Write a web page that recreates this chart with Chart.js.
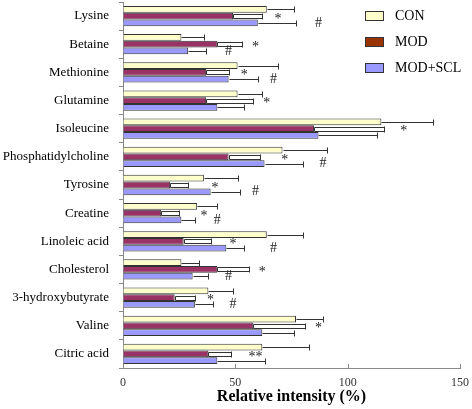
<!DOCTYPE html>
<html>
<head>
<meta charset="utf-8">
<script src="https://cdn.jsdelivr.net/npm/chart.js@4"></script>
<style>
  html, body { margin: 0; padding: 0; background: #fff; }
</style>
</head>
<body>
<canvas id="chart" width="472" height="409"></canvas>
<script>
const categories = ['Lysine', 'Betaine', 'Methionine', 'Glutamine', 'Isoleucine', 'Phosphatidylcholine',
    'Tyrosine', 'Creatine', 'Linoleic acid', 'Cholesterol', '3-hydroxybutyrate', 'Valine', 'Citric acid'];
const seriesNames = ['CON', 'MOD', 'MOD+SCL'];
const conValues = [64, 26, 51, 51, 115, 71, 36, 33, 64, 26, 38, 77, 62];
const conErrors = [12, 10, 18, 11, 23, 20, 15, 9, 16, 8, 11, 12, 21];
const modValues = [49, 42, 37, 37, 85, 47, 21, 17, 27, 42, 23, 58, 38];
const modErrors = [13, 11, 10, 21, 31, 14, 8, 8, 12, 14, 9, 23, 10];
const sclValues = [60, 29, 47, 42, 87, 63, 39, 26, 46, 31, 32, 62, 42];
const sclErrors = [17, 8, 13, 12, 26, 17, 13, 6, 8, 7, 8, 14, 21];
// significance marks: '*' vs CON (on MOD row), '#' vs MOD (on SCL row)
const starMarks = ['*', '*', '*', '*', '*', '*', '*', '*', '*', '*', '*', '*', '**'];
const starX = [69, 59, 54, 64, 125, 72, 41, 36, 49, 62, 39, 87, 59];
const hashX = [87, 47, 67, null, null, 89, 59, 42, 67, 47, 49, null, null];
const xTicks = [0, 50, 100, 150];

const serif = 'Liberation Serif, Times New Roman, serif';
const legendSwatch = ['#FFFFCC', '#993300', '#9999FF'];

const errorBars = {
    id: 'errorBars',
    afterDatasetsDraw(chart) {
        const ctx = chart.ctx;
        const xs = chart.scales.x;
        ctx.save();
        ctx.strokeStyle = '#333';
        ctx.lineWidth = 1;
        chart.data.datasets.forEach((ds, i) => {
            const meta = chart.getDatasetMeta(i);
            meta.data.forEach((bar, j) => {
                const x0 = Math.round(bar.x) + 0.5;
                const x1 = Math.round(xs.getPixelForValue(ds.data[j] + ds.errors[j])) + 0.5;
                const y = Math.round(bar.y) + 0.5;
                ctx.beginPath();
                if (i === 1) {
                    ctx.rect(x0, y - 2, x1 - x0, 4);
                } else {
                    ctx.moveTo(x0, y);
                    ctx.lineTo(x1, y);
                }
                ctx.moveTo(x1, y - 3);
                ctx.lineTo(x1, y + 3);
                ctx.stroke();
            });
        });
        ctx.restore();
    },
    afterDraw(chart) {
        const ctx = chart.ctx;
        const xs = chart.scales.x;
        const area = chart.chartArea;
        ctx.save();
        // inward x ticks
        ctx.strokeStyle = '#888';
        ctx.beginPath();
        xTicks.forEach(v => {
            const x = Math.round(xs.getPixelForValue(v)) + 0.5;
            ctx.moveTo(x, area.bottom);
            ctx.lineTo(x, area.bottom - 4);
        });
        ctx.stroke();

        // significance marks
        ctx.fillStyle = '#222';
        ctx.font = '14px ' + serif;
        ctx.textAlign = 'center';
        ctx.textBaseline = 'middle';
        const modMeta = chart.getDatasetMeta(1);
        const sclMeta = chart.getDatasetMeta(2);
        categories.forEach((c, j) => {
            if (starX[j] != null) {
                ctx.fillText(starMarks[j], xs.getPixelForValue(starX[j]), modMeta.data[j].y + 3);
            }
            if (hashX[j] != null) {
                ctx.fillText('#', xs.getPixelForValue(hashX[j]), sclMeta.data[j].y);
            }
        });

        // legend
        ctx.textAlign = 'left';
        seriesNames.forEach((name, k) => {
            const y = 16 + k * 26;
            ctx.fillStyle = legendSwatch[k];
            ctx.fillRect(365, y - 4, 18, 8);
            ctx.strokeStyle = '#333';
            ctx.strokeRect(365.5, y - 4.5, 18, 9);
            ctx.fillStyle = '#000';
            ctx.fillText(name, 395, y);
        });
        ctx.restore();
    }
};

const barStyle = { borderColor: '#333', borderWidth: 1, categoryPercentage: 0.72, barPercentage: 1.0 };

new Chart(document.getElementById('chart').getContext('2d'), {
    type: 'bar',
    data: {
        labels: categories,
        datasets: [
            { label: seriesNames[0], data: conValues, errors: conErrors, backgroundColor: '#FFFFCC', ...barStyle },
            { label: seriesNames[1], data: modValues, errors: modErrors, backgroundColor: '#993366', ...barStyle },
            { label: seriesNames[2], data: sclValues, errors: sclErrors, backgroundColor: '#9999FF', ...barStyle }
        ]
    },
    options: {
        indexAxis: 'y',
        responsive: false,
        animation: false,
        devicePixelRatio: 1,
        layout: { padding: { top: 2, right: 12, left: 0, bottom: 0 } },
        plugins: {
            legend: { display: false },
            tooltip: { enabled: false }
        },
        scales: {
            x: {
                min: 0,
                max: 150,
                afterFit: s => { s.height = 41; s.paddingLeft = 0; s.paddingRight = 0; },
                afterBuildTicks: s => { s.ticks = xTicks.map(v => ({ value: v })); },
                grid: { drawOnChartArea: false, tickLength: 0 },
                border: { color: '#888' },
                ticks: { color: '#333', padding: 8, font: { family: serif, size: 12 } },
                title: {
                    display: true,
                    text: 'Relative intensity (%)',
                    color: '#000',
                    font: { family: serif, size: 16, weight: 'bold' },
                    padding: { top: 0, bottom: 3 }
                }
            },
            y: {
                afterFit: s => { s.width = 123; s.paddingTop = 0; s.paddingBottom = 0; },
                grid: { drawOnChartArea: false, tickLength: 4, color: '#888', offset: true },
                border: { color: '#888' },
                ticks: { color: '#000', padding: 10, font: { family: serif, size: 13 } }
            }
        }
    },
    plugins: [errorBars]
});
</script>
</body>
</html>
